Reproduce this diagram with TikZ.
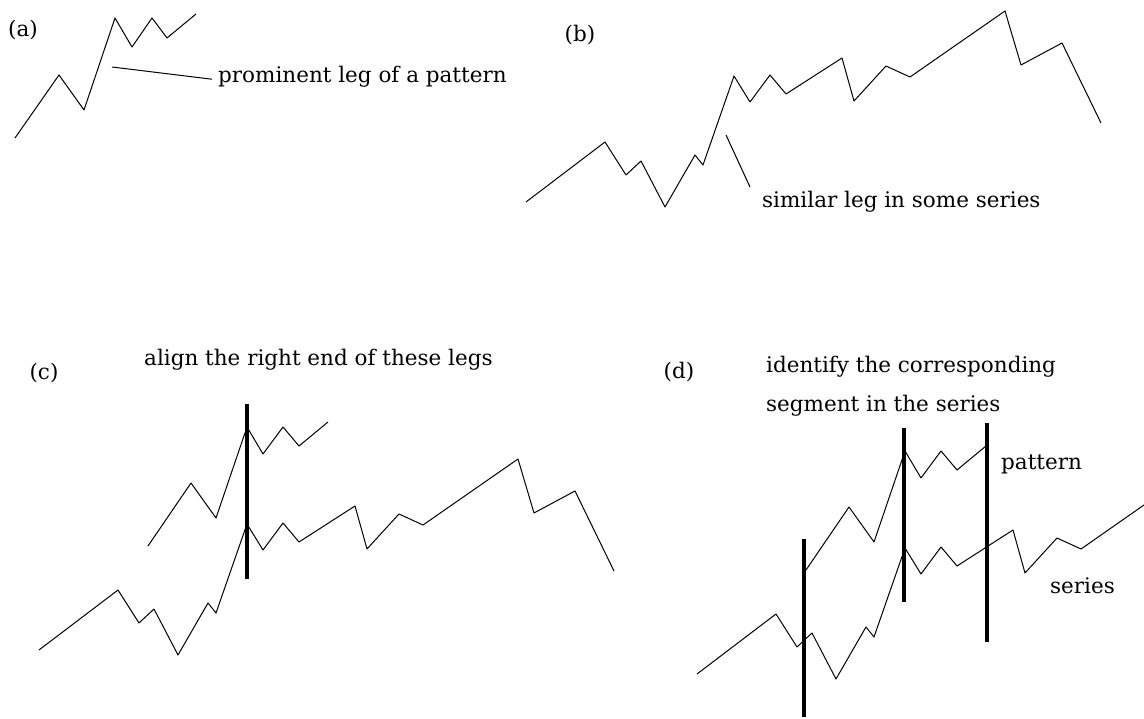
\documentclass[tikz,border=0pt]{standalone}
\usepackage{fontspec}
\setmainfont{DejaVu Serif}
\begin{document}
\begin{tikzpicture}[x=1pt,y=-1pt,line join=round,
  curve/.style={line width=1pt},
  bar/.style={line width=4pt},
  lbl/.style={font=\fontsize{21.5}{26}\selectfont,inner sep=0pt,anchor=base west},
  tag/.style={font=\fontsize{21.5}{26}\selectfont,inner sep=0pt}]
\useasboundingbox (0,0) rectangle (1144,719);

% ---------- (a) ----------
\node[tag] (tagA) at (23,30) {(a)};
\draw[curve] (15,138) -- (59,75) -- (84,110) -- (115,18) -- (132,47) -- (152,18) -- (167,38) -- (196,14);
\node[lbl] (lblA) at (218,83) {prominent leg of a pattern};
\coordinate (legA) at (112,67);
\draw[curve] (legA) -- ([xshift=-6pt,yshift=-2pt]lblA.west);

% ---------- (b) ----------
\node[tag] (tagB) at (580,35) {(b)};
\begin{scope}[shift={(487,-448)}]
\draw[curve] (39,650) -- (118,590) -- (139,623) -- (154,609) -- (178,655) -- (208,603) -- (216,613) -- (247,524) -- (263,550) -- (283,523) -- (299,542) -- (355,506) -- (367,549) -- (399,514) -- (423,525) -- (518,459) -- (534,513) -- (575,491) -- (614,571);
\end{scope}
\node[lbl] (lblB) at (762,208) {similar leg in some series};
\coordinate (legB1) at (726,135);
\coordinate (legB2) at (750,187);
\draw[curve] (legB1) -- (legB2);

% ---------- (c) ----------
\node[tag] (tagC) at (44,373) {(c)};
\node[lbl] (lblC) at (144,366) {align the right end of these legs};
\draw[curve] (148,546) -- (191,483) -- (216,518) -- (247,427) -- (263,454) -- (283,427) -- (299,446) -- (328,422);
\draw[curve] (39,650) -- (118,590) -- (139,623) -- (154,609) -- (178,655) -- (208,603) -- (216,613) -- (247,524) -- (263,550) -- (283,523) -- (299,542) -- (355,506) -- (367,549) -- (399,514) -- (423,525) -- (518,459) -- (534,513) -- (575,491) -- (614,571);
\coordinate (barCtop) at (247,404);
\coordinate (barCbot) at (247,579);
\draw[bar] (barCtop) -- (barCbot);

% ---------- (d) ----------
\node[tag] (tagD) at (679,372) {(d)};
\node[lbl] (lblD1) at (766,373) {identify the corresponding};
\node[lbl] (lblD2) at (766,412) {segment in the series};
\begin{scope}[shift={(658,24)}]
\draw[curve] (148,546) -- (191,483) -- (216,518) -- (247,427) -- (263,454) -- (283,427) -- (299,446) -- (328,422);
\draw[curve] (39,650) -- (118,590) -- (139,623) -- (154,609) -- (178,655) -- (208,603) -- (216,613) -- (247,524) -- (263,550) -- (283,523) -- (299,542) -- (355,506) -- (367,549) -- (399,514) -- (423,525) -- (486,481);
\end{scope}
\node[lbl] (lblPat) at (1001,469) {pattern};
\node[lbl] (lblSer) at (1050,593) {series};
\coordinate (barD1t) at (804,539);
\coordinate (barD1b) at (804,717);
\coordinate (barD2t) at (904,428);
\coordinate (barD2b) at (904,602);
\coordinate (barD3t) at (987,423);
\coordinate (barD3b) at (987,642);
\draw[bar] (barD1t) -- (barD1b);
\draw[bar] (barD2t) -- (barD2b);
\draw[bar] (barD3t) -- (barD3b);
\end{tikzpicture}
\end{document}
